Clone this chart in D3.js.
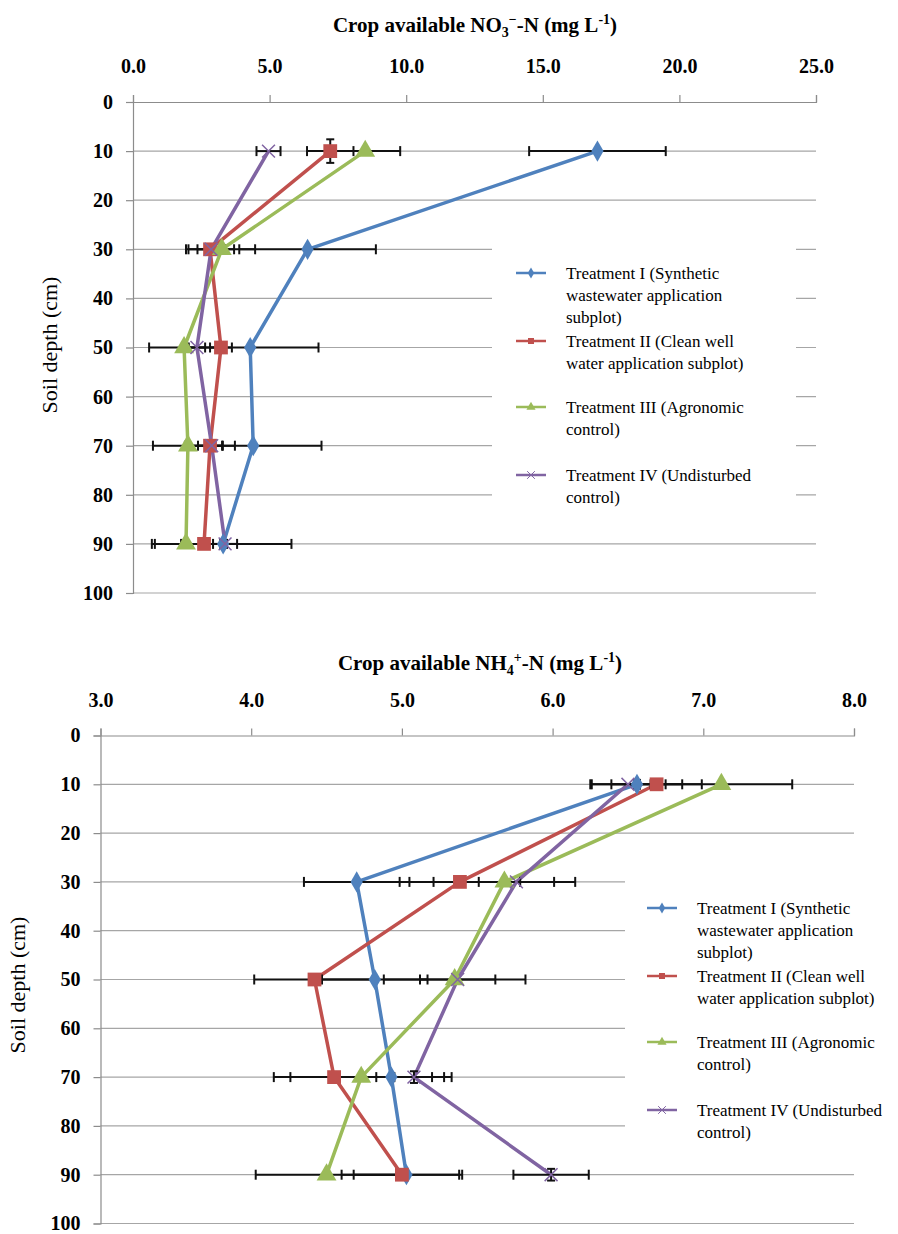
<!DOCTYPE html>
<html>
<head>
<meta charset="utf-8">
<script src="https://cdn.jsdelivr.net/npm/d3@7"></script>
<style>
body{margin:0;background:#fff;}
svg text{font-family:"Liberation Serif", "Times New Roman", serif;}
</style>
</head>
<body>
<div id="chart"></div>
<script>
// depths (cm) where samples were taken
var depths = [10, 30, 50, 70, 90];
var depthTicks = [0, 10, 20, 30, 40, 50, 60, 70, 80, 90, 100];
var no3Ticks = [0, 5, 10, 15, 20, 25];
var nh4Ticks = [3, 4, 5, 6, 7, 8];

var legendLines = [
	['Treatment I (Synthetic', 'wastewater application', 'subplot)'],
	['Treatment II (Clean well', 'water application subplot)'],
	['Treatment III (Agronomic', 'control)'],
	['Treatment IV (Undisturbed', 'control)']
];

// NO3-N
var no3T1 = [17.0, 6.39, 4.29, 4.40, 3.30];
var no3T2 = [7.22, 2.82, 3.22, 2.82, 2.60];
var no3T3 = [8.50, 3.25, 1.87, 2.01, 1.94];
var no3T4 = [4.96, 2.86, 2.34, 2.88, 3.37];
var no3T1Err = [2.5, 2.5, 2.5, 2.5, 2.5];
var no3T2Err = [0.85, 0.88, 0.40, 0.44, 0.84];
var no3T3Err = [1.28, 1.22, 1.28, 1.28, 1.25];
var no3T4Err = [0.44, 0.50, 0.30, 0.85, 0.44];
var no3T2DepthErr = [2.4, 0, 0, 0, 0];

// NH4-N
var nh4T1 = [6.56, 4.70, 4.82, 4.93, 5.03];
var nh4T2 = [6.69, 5.385, 4.42, 4.55, 5.00];
var nh4T3 = [7.12, 5.68, 5.35, 4.73, 4.50];
var nh4T4 = [6.50, 5.76, 5.37, 5.08, 5.99];
var nh4T1Err = [0.30, 0.35, 0.35, 0.35, 0.35];
var nh4T2Err = [0.30, 0.40, 0.40, 0.40, 0.40];
var nh4T3Err = [0.47, 0.47, 0.47, 0.47, 0.47];
var nh4T4Err = [0.25, 0.25, 0.25, 0.25, 0.25];
var nh4T1DepthErr = [0.9, 0, 0, 0, 0];
var nh4T4DepthErr = [0, 0, 0, 1.2, 1.2];

var colors = ['#4F81BD', '#C0504D', '#9BBB59', '#8064A2'];
var symbols = [d3.symbolDiamond, d3.symbolSquare, d3.symbolTriangle, d3.symbolX];
var symSize = [130, 190, 170, 110];
var serif = '"Liberation Serif", "Times New Roman", serif';

var svg = d3.select('#chart').append('svg')
	.attr('width', 898)
	.attr('height', 1234)
	.style('font-family', serif);

drawPanel({
	left: 133, right: 816, top: 102, bottom: 593,
	xDomain: [0, 25], xTicks: no3Ticks,
	title: [['Crop available NO', 0], ['3', 1], ['\u2212', 2], ['-N (mg L', 0], ['-1', 2], [')', 0]],
	titleX: 475, titleY: 32,
	yTitleX: 57, yTitleY: 345,
	values: [no3T1, no3T2, no3T3, no3T4],
	errs: [no3T1Err, no3T2Err, no3T3Err, no3T4Err],
	depthErrs: [null, no3T2DepthErr, null, null],
	legend: {x: 492, y: 240, w: 304, h: 275, lineX: 516, textX: 566, firstY: 273}
});

drawPanel({
	left: 100.5, right: 854, top: 735.5, bottom: 1223.5,
	xDomain: [3, 8], xTicks: nh4Ticks,
	title: [['Crop available NH', 0], ['4', 1], ['+', 2], ['-N (mg L', 0], ['-1', 2], [')', 0]],
	titleX: 480, titleY: 670,
	yTitleX: 25, yTitleY: 985,
	values: [nh4T1, nh4T2, nh4T3, nh4T4],
	errs: [nh4T1Err, nh4T2Err, nh4T3Err, nh4T4Err],
	depthErrs: [nh4T1DepthErr, null, null, nh4T4DepthErr],
	legend: {x: 625, y: 850, w: 273, h: 300, lineX: 647, textX: 697, firstY: 908}
});

function drawPanel(o){
	var x = d3.scaleLinear().domain(o.xDomain).range([o.left, o.right]);
	var y = d3.scaleLinear().domain([0, 100]).range([o.top, o.bottom]);
	var g = svg.append('g');

	// gridlines
	g.append('g').selectAll('line').data(depthTicks.slice(1)).enter().append('line')
		.attr('x1', o.left).attr('x2', o.right)
		.attr('y1', function(d){ return y(d); }).attr('y2', function(d){ return y(d); })
		.attr('stroke', '#a6a6a6').attr('stroke-width', 1.2);

	// axes
	var xAxis = g.append('g').attr('transform', 'translate(0,' + o.top + ')')
		.call(d3.axisTop(x).tickValues(o.xTicks).tickSize(7).tickPadding(22).tickFormat(d3.format('.1f')));
	var yAxis = g.append('g').attr('transform', 'translate(' + o.left + ',0)')
		.call(d3.axisLeft(y).tickValues(depthTicks).tickSize(7).tickPadding(13).tickFormat(d3.format('d')));
	[xAxis, yAxis].forEach(function(a){
		a.attr('font-family', null);
		a.select('.domain').attr('stroke', '#8c8c8c').attr('stroke-width', 1.2);
		a.selectAll('.tick line').attr('stroke', '#8c8c8c').attr('stroke-width', 1.2);
		a.selectAll('.tick text').attr('font-size', 20)
			.attr('font-weight', 'bold').attr('fill', '#000');
	});

	// title
	var t = g.append('text').attr('x', o.titleX).attr('y', o.titleY)
		.attr('text-anchor', 'middle').attr('font-size', 21).attr('font-weight', 'bold');
	var shift = 0;
	o.title.forEach(function(p){
		var target = p[1] == 1 ? 5 : (p[1] == 2 ? -8 : 0);
		var ts = t.append('tspan').attr('dy', target - shift).text(p[0]);
		if(p[1] != 0){ ts.attr('font-size', 14); }
		shift = target;
	});

	// y title
	g.append('text')
		.attr('transform', 'translate(' + o.yTitleX + ',' + o.yTitleY + ') rotate(-90)')
		.attr('text-anchor', 'middle').attr('font-size', 22)
		.text('Soil depth (cm)');

	// legend box (covers gridlines)
	var L = o.legend;
	g.append('rect').attr('x', L.x).attr('y', L.y).attr('width', L.w).attr('height', L.h).attr('fill', '#fff');

	var line = d3.line()
		.x(function(d){ return x(d[0]); })
		.y(function(d){ return y(d[1]); });

	for(var i = 0; i < 4; i++){
		var pts = o.values[i].map(function(v, j){ return [v, depths[j]]; });
		g.append('path').datum(pts).attr('d', line)
			.attr('fill', 'none').attr('stroke', colors[i]).attr('stroke-width', 3.5)
			.attr('stroke-linejoin', 'round');
	}

	// error bars
	for(var i = 0; i < 4; i++){
		var eb = g.append('g').attr('stroke', '#111').attr('stroke-width', 2);
		for(var j = 0; j < depths.length; j++){
			var v = o.values[i][j], e = o.errs[i][j], yy = y(depths[j]);
			eb.append('line').attr('x1', x(v - e)).attr('x2', x(v + e)).attr('y1', yy).attr('y2', yy);
			eb.append('line').attr('x1', x(v - e)).attr('x2', x(v - e)).attr('y1', yy - 5).attr('y2', yy + 5);
			eb.append('line').attr('x1', x(v + e)).attr('x2', x(v + e)).attr('y1', yy - 5).attr('y2', yy + 5);
			if(o.depthErrs[i] && o.depthErrs[i][j] > 0){
				var de = o.depthErrs[i][j], xx = x(v);
				eb.append('line').attr('x1', xx).attr('x2', xx).attr('y1', y(depths[j] - de)).attr('y2', y(depths[j] + de));
				eb.append('line').attr('x1', xx - 4).attr('x2', xx + 4).attr('y1', y(depths[j] - de)).attr('y2', y(depths[j] - de));
				eb.append('line').attr('x1', xx - 4).attr('x2', xx + 4).attr('y1', y(depths[j] + de)).attr('y2', y(depths[j] + de));
			}
		}
	}

	// markers
	for(var i = 0; i < 4; i++){
		var sym = d3.symbol().type(symbols[i]).size(symSize[i]);
		g.append('g').selectAll('path').data(o.values[i]).enter().append('path')
			.attr('d', sym)
			.attr('transform', function(d, j){ return 'translate(' + x(d) + ',' + y(depths[j]) + ')'; })
			.attr('fill', i == 3 ? 'none' : colors[i])
			.attr('stroke', i == 3 ? colors[i] : 'none')
			.attr('stroke-width', 1.5);
	}

	// legend entries
	var offsets = [0, 68, 134, 202];
	for(var i = 0; i < 4; i++){
		var ly = L.firstY + offsets[i];
		g.append('line').attr('x1', L.lineX).attr('x2', L.lineX + 30).attr('y1', ly).attr('y2', ly)
			.attr('stroke', colors[i]).attr('stroke-width', 2.5);
		g.append('path').attr('d', d3.symbol().type(symbols[i]).size(i == 3 ? 40 : 36))
			.attr('transform', 'translate(' + (L.lineX + 15) + ',' + ly + ')')
			.attr('fill', i == 3 ? 'none' : colors[i])
			.attr('stroke', i == 3 ? colors[i] : 'none');
		var tx = g.append('text').attr('x', L.textX).attr('y', ly + 6).attr('font-size', 17);
		legendLines[i].forEach(function(s, k){
			tx.append('tspan').attr('x', L.textX).attr('dy', k == 0 ? 0 : 22).text(s);
		});
	}
}
</script>
</body>
</html>
